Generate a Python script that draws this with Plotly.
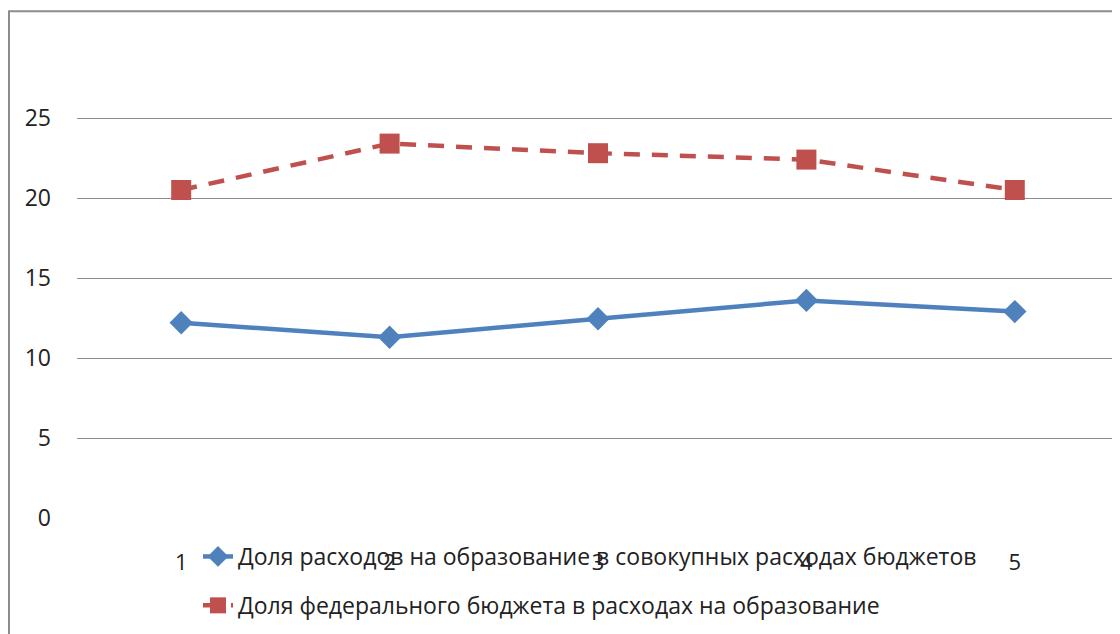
import plotly.graph_objects as go

categories = ["1", "2", "3", "4", "5"]
share_total = [12.2, 11.3, 12.45, 13.6, 12.9]
share_federal = [20.5, 23.4, 22.8, 22.4, 20.5]
name_total = "Доля расходов на образование в совокупных расходах бюджетов"
name_federal = "Доля федерального бюджета в расходах на образование"
y_ticks = [0, 5, 10, 15, 20, 25]

FONT = "Open Sans"
OFF = 8  # page body margin of the browser
W, H = 1112, 626
L, R, T, B = 69, 1, 30, 116
pw, ph = W - L - R, H - T - B


def px_x(p):
    # window pixel -> paper x
    return (p - OFF - L) / pw


def px_y(p):
    # window pixel -> paper y
    return (H - B - (p - OFF)) / ph


fig = go.Figure()
fig.add_trace(go.Scatter(
    x=categories, y=share_total, name=name_total, mode="lines+markers",
    line=dict(color="#4F81BD", width=4.5),
    marker=dict(symbol="diamond", size=18, color="#4F81BD"),
    legendgroup="a",
))
fig.add_trace(go.Scatter(
    x=categories, y=share_federal, name=name_federal, mode="lines+markers",
    line=dict(color="#C0504D", width=4.5, dash="16px,12px"),
    marker=dict(symbol="square", size=20, color="#C0504D"),
    legendgroup="b",
))

fig.update_layout(
    width=W, height=H,
    margin=dict(l=L, r=R, t=T, b=B, autoexpand=False),
    paper_bgcolor="white", plot_bgcolor="white",
    font=dict(family=FONT, size=23, color="#222222"),
    showlegend=True,
    legend=dict(
        x=px_x(198), y=px_y(535), xanchor="left", yanchor="top",
        bgcolor="rgba(0,0,0,0)", font=dict(size=23, family=FONT),
        traceorder="grouped", tracegroupgap=16, itemwidth=30,
    ),
    xaxis=dict(
        type="category", range=[-0.5, 4.5], showgrid=False, zeroline=False,
        showline=False, ticks="", ticklabelstandoff=29, automargin=False,
        tickfont=dict(size=22, family=FONT, color="#222222"),
    ),
    yaxis=dict(
        range=[0, 30], tickvals=y_ticks, showgrid=True, gridcolor="#8C8C8C",
        gridwidth=1.2, zeroline=False, showline=False, ticks="", automargin=False,
        ticklabelstandoff=25, tickfont=dict(size=23, family=FONT, color="#222222"),
    ),
    shapes=[dict(
        type="rect", xref="paper", yref="paper",
        x0=px_x(9), x1=px_x(1160), y0=px_y(700), y1=px_y(11.3),
        line=dict(color="#8C8C8C", width=2), fillcolor="rgba(0,0,0,0)", layer="below",
    )],
)

fig.write_html("out.html")
